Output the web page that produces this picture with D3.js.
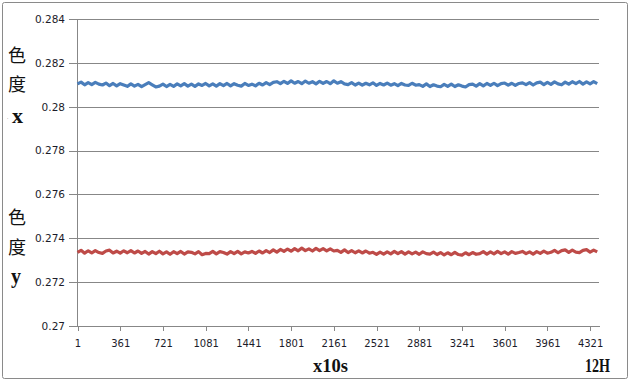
<!DOCTYPE html>
<html>
<head>
<meta charset="utf-8">
<script src="https://cdn.jsdelivr.net/npm/d3@7"></script>
<style>
  body { margin: 0; background: #fff; }
  svg { display: block; }
</style>
</head>
<body>
<svg width="630" height="382"></svg>
<script>
// readings taken every 30 samples (10s each), offsets in 1e-5 from base
const sampleStep = 30;
const chromaXBase = 0.28;
const chromaX = [
  104, 112, 100, 110, 101, 111, 103,
  99, 108, 96, 106, 95, 105, 99, 93, 104, 94, 102, 92, 101,
  110, 100, 90,
  94, 103, 92, 102, 93, 104, 95, 105, 94, 103, 93, 104, 97, 106, 95, 104, 94, 105,
  96, 106, 95, 105, 98, 94, 106, 97,
  103, 95, 107, 99, 110, 101, 111,
  114, 105, 116, 106, 118, 107, 115, 105, 117, 107, 114, 104, 116, 106, 115, 105, 118, 107, 114, 104,
  101, 110, 99, 108, 98, 107, 100, 109, 97, 106, 99, 108, 98, 105, 96, 106, 99, 97, 107, 98,
  101, 93, 104, 92, 100, 94, 91, 102, 93, 103, 92, 100, 94, 90, 101,
  103, 94, 105, 95, 106, 97, 107, 96, 105, 108, 98, 107, 97, 106, 109,
  101, 110, 99, 109, 112, 101, 111, 102, 113, 104, 100, 112, 103, 114, 105, 115, 103, 113, 104, 114, 105
];
const chromaYBase = 0.273;
const chromaY = [
  36, 45, 32, 43, 33, 44, 35, 31, 42, 46, 33, 41, 32, 43, 34, 44, 33, 42,
  31, 40, 28, 39, 30, 41, 29, 38, 27, 39, 30, 40, 28, 38, 36, 29, 39,
  25, 31,
  30, 40, 29, 39, 35, 28, 39, 30, 40, 29, 38, 33,
  40, 31, 42, 33, 44, 35, 47, 37, 49, 40,
  51, 41, 53, 43, 55, 44, 52, 42, 54, 44, 53, 43, 52, 42,
  45, 36, 47, 35, 44, 34, 43, 33, 42, 32, 36, 27, 37, 28,
  38, 29, 40, 30, 39, 28, 38, 29, 37, 27, 38, 30, 28, 37,
  26, 35, 24, 34, 25, 36, 26, 23, 34, 25, 35, 27,
  30, 39, 28, 38, 29, 40, 30, 38, 28, 39, 31, 35, 40, 30, 38, 28, 39, 31, 41, 32,
  36, 45, 34, 44, 47, 36, 46, 37, 35, 45, 48, 37, 46, 38
];
const xTicks = [1, 361, 721, 1081, 1441, 1801, 2161, 2521, 2881, 3241, 3601, 3961, 4321];
const yTicks = [0.27, 0.272, 0.274, 0.276, 0.278, 0.28, 0.282, 0.284];
const lastIndex = 4396;

const svg = d3.select('svg');
const plot = { left: 77.5, right: 599, top: 19, bottom: 326 };

// outer frame
svg
  .append('rect')
  .attr('x', 2.5)
  .attr('y', 2.5)
  .attr('width', 625)
  .attr('height', 376)
  .attr('rx', 2)
  .attr('fill', '#fff')
  .attr('stroke', '#8a8a8a');

const x = d3.scaleLinear().domain([1, lastIndex]).range([plot.left, plot.right]);
const y = d3.scaleLinear().domain([0.27, 0.284]).range([plot.bottom, plot.top]);

// gridlines + y axis
svg
  .append('g')
  .attr('transform', `translate(${plot.left},0)`)
  .call(
    d3
      .axisLeft(y)
      .tickValues(yTicks)
      .tickSize(-(plot.right - plot.left))
      .tickPadding(12)
      .tickFormat((d) => String(d))
  )
  .call((g) => g.select('.domain').remove())
  .call((g) =>
    g.selectAll('.tick line').attr('x1', -9).attr('stroke', '#878787').attr('shape-rendering', 'crispEdges')
  )
  .call((g) =>
    g
      .selectAll('.tick text')
      .attr('x', -12.5)
      .attr('fill', '#1c1c2a')
      .style('font-family', 'DejaVu Sans')
      .style('font-size', '10.5px')
  );

svg
  .append('line')
  .attr('x1', plot.left)
  .attr('x2', plot.left)
  .attr('y1', plot.top)
  .attr('y2', plot.bottom)
  .attr('stroke', '#878787')
  .attr('shape-rendering', 'crispEdges');

// x axis
svg
  .append('g')
  .attr('transform', `translate(0,${plot.bottom})`)
  .call(
    d3
      .axisBottom(x)
      .tickValues(xTicks)
      .tickSizeInner(5)
      .tickSizeOuter(0)
      .tickPadding(9)
      .tickFormat((d) => String(d))
  )
  .call((g) => g.select('.domain').attr('stroke', '#878787').attr('shape-rendering', 'crispEdges'))
  .call((g) => g.selectAll('.tick line').attr('stroke', '#878787').attr('shape-rendering', 'crispEdges'))
  .call((g) =>
    g
      .selectAll('.tick text')
      .attr('fill', '#1c1c2a')
      .style('font-family', 'DejaVu Sans')
      .style('font-size', '10px')
  );

const line = d3
  .line()
  .x((d, i) => x(1 + i * sampleStep))
  .y((d) => y(d));

svg
  .append('path')
  .datum(chromaX.map((n) => chromaXBase + n * 1e-5))
  .attr('fill', 'none')
  .attr('stroke', '#4a7ebb')
  .attr('stroke-width', 3.2)
  .attr('stroke-linejoin', 'round')
  .attr('d', line);

svg
  .append('path')
  .datum(chromaY.map((n) => chromaYBase + n * 1e-5))
  .attr('fill', 'none')
  .attr('stroke', '#be4b48')
  .attr('stroke-width', 3.2)
  .attr('stroke-linejoin', 'round')
  .attr('d', line);

// side labels
const cjk = (txt, cx, cy) =>
  svg
    .append('text')
    .attr('x', cx)
    .attr('y', cy)
    .attr('text-anchor', 'middle')
    .style('font-family', 'Noto Sans CJK SC')
    .style('font-size', '18px')
    .attr('fill', '#111')
    .text(txt);

const serif = (txt, xx, yy, size, len, anchor) =>
  svg
    .append('text')
    .attr('x', xx)
    .attr('y', yy)
    .attr('text-anchor', anchor)
    .attr('textLength', len)
    .attr('lengthAdjust', 'spacingAndGlyphs')
    .style('font-family', 'Liberation Serif')
    .style('font-weight', 'bold')
    .style('font-size', size + 'px')
    .attr('fill', '#111')
    .text(txt);

cjk('色', 17, 62);
cjk('度', 17, 91);
svg.append('text').attr('x', 7).attr('y', 119).style('font-size', '5px').attr('fill', '#444').text('.');
serif('x', 17.5, 123, 20, 11, 'middle');

cjk('色', 17, 224);
cjk('度', 17, 254);
serif('y', 16, 283, 20, 10, 'middle');

serif('x10s', 313, 372, 18, 35, 'start');
serif('12H', 585, 372, 18, 25, 'start');
</script>
</body>
</html>
